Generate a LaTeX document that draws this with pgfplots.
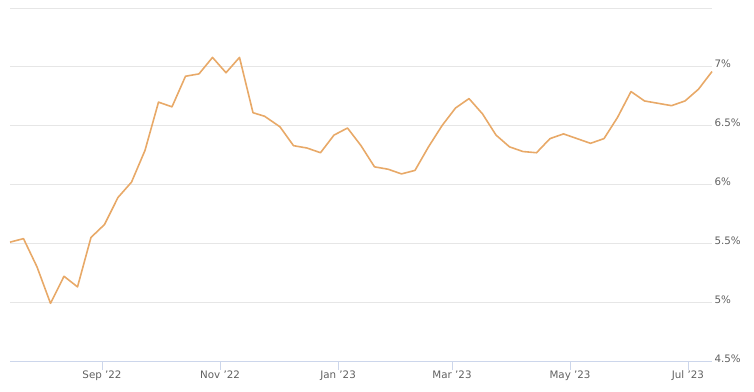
\documentclass[border=0pt]{standalone}
\usepackage{fontspec}
\setmainfont{DejaVu Sans}
\usepackage{pgfplots}
\pgfplotsset{compat=1.18}
\definecolor{linec}{RGB}{232,169,104}
\definecolor{gridc}{RGB}{230,230,230}
\definecolor{axisc}{RGB}{204,214,235}
\definecolor{labc}{RGB}{96,96,96}
\begin{document}
\begin{tikzpicture}
\begin{axis}[
  scale only axis,
  width=702pt, height=353pt,
  xmin=0, xmax=364, ymin=4.5, ymax=7.5,
  axis line style={draw=none},
  xtick={47.7,108.9,170.1,229.2,290.4,351.5},
  xticklabels={Sep '22,Nov '22,Jan '23,Mar '23,May '23,Jul '23},
  ytick={4.5,5,5.5,6,6.5,7,7.5},
  yticklabels={4.5\%,5\%,5.5\%,6\%,6.5\%,7\%,},
  ymajorgrids, grid style={gridc, line width=0.8pt},
  xtick pos=bottom, ytick pos=right,
  xtick style={draw=axisc, line width=0.8pt},
  major tick length=9pt,
  xtick align=outside,
  ytick style={draw=none},
  tick label style={font=\fontsize{10.3}{12}\selectfont, text=labc},
  xticklabel style={anchor=north, yshift=3pt},
  yticklabel style={anchor=base west, xshift=-1pt, yshift=-1pt},
  clip=false,
]
\draw[axisc, line width=0.8pt] (rel axis cs:0,0) -- (rel axis cs:1,0);
\addplot[color=linec, line width=1.6pt, mark=none, line join=round] coordinates {
(0,5.51) (7,5.54) (14,5.30) (21,4.99) (28,5.22) (35,5.13) (42,5.55) (49,5.66)
(56,5.89) (63,6.02) (70,6.29) (77,6.70) (84,6.66) (91,6.92) (98,6.94) (105,7.08)
(112,6.95) (119,7.08) (126,6.61) (132,6.58) (140,6.49) (147,6.33) (154,6.31)
(161,6.27) (168,6.42) (175,6.48) (182,6.33) (189,6.15) (196,6.13) (203,6.09)
(210,6.12) (217,6.32) (224,6.50) (231,6.65) (238,6.73) (245,6.60) (252,6.42)
(259,6.32) (266,6.28) (273,6.27) (280,6.39) (287,6.43) (294,6.39) (301,6.35)
(308,6.39) (315,6.57) (322,6.79) (329,6.71) (336,6.69) (343,6.67) (350,6.71)
(357,6.81) (364,6.96)
};
\end{axis}
\pgfresetboundingbox
\path (-10pt,-30pt) rectangle (744pt,361pt);
\end{tikzpicture}
\end{document}
